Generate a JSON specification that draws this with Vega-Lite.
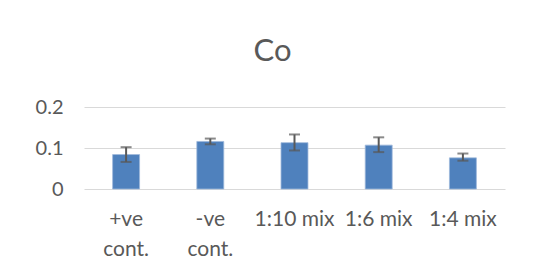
{
  "$schema": "https://vega.github.io/schema/vega-lite/v6.json",
  "autosize": "none",
  "width": 421,
  "height": 82,
  "padding": {"left": 84, "top": 107, "right": 39, "bottom": 89},
  "background": "white",
  "title": {
    "text": "Co",
    "font": "Lato",
    "fontSize": 31,
    "fontWeight": "normal",
    "color": "#595959",
    "anchor": "middle",
    "dx": -22,
    "baseline": "alphabetic",
    "offset": 5
  },
  "config": {
    "view": {"stroke": null},
    "axis": {"labelFont": "Lato", "labelColor": "#595959", "titleFont": "Lato"}
  },
  "data": {
    "values": [
      {"group": "+ve cont.", "value": 0.084, "lo": 0.066, "hi": 0.102},
      {"group": "-ve cont.", "value": 0.116, "lo": 0.109, "hi": 0.123},
      {"group": "1:10 mix", "value": 0.113, "lo": 0.094, "hi": 0.133},
      {"group": "1:6 mix", "value": 0.107, "lo": 0.090, "hi": 0.126},
      {"group": "1:4 mix", "value": 0.076, "lo": 0.069, "hi": 0.0865}
    ]
  },
  "encoding": {
    "x": {
      "field": "group",
      "type": "nominal",
      "sort": null,
      "scale": {"paddingInner": 0.68, "paddingOuter": 0.34},
      "axis": {
        "title": null,
        "labelAngle": 0,
        "labelFontSize": 21,
        "labelPadding": 19,
        "labelLineHeight": 30,
        "labelBaseline": "top",
        "ticks": false,
        "domain": false,
        "labelExpr": "indexof(datum.value, 'cont') >= 0 ? split(datum.value, ' ') : datum.value"
      }
    }
  },
  "layer": [
    {
      "mark": {"type": "bar", "color": "#4F81BD", "stroke": "#9DB7DA", "strokeWidth": 0.8},
      "encoding": {
        "y": {
          "field": "value",
          "type": "quantitative",
          "scale": {"domain": [0, 0.2], "nice": false},
          "axis": {
            "title": null,
            "values": [0, 0.1, 0.2],
            "format": ".1~f",
            "labelExpr": "datum.value == 0 ? '0' : datum.label",
            "labelFontSize": 20,
            "labelPadding": 21,
            "ticks": false,
            "domain": false,
            "grid": true,
            "gridColor": "#D9D9D9",
            "gridWidth": 1.2
          }
        }
      }
    },
    {
      "mark": {"type": "rule", "color": "#595959", "strokeWidth": 2},
      "encoding": {
        "y": {"field": "lo", "type": "quantitative"},
        "y2": {"field": "hi"}
      }
    },
    {
      "mark": {"type": "tick", "color": "#595959", "thickness": 2, "size": 11},
      "encoding": {"y": {"field": "lo", "type": "quantitative"}}
    },
    {
      "mark": {"type": "tick", "color": "#595959", "thickness": 2, "size": 11},
      "encoding": {"y": {"field": "hi", "type": "quantitative"}}
    }
  ]
}
